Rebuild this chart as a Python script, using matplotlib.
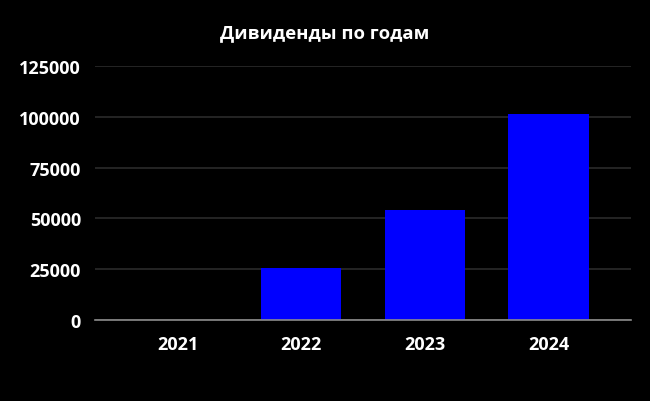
import matplotlib.pyplot as plt
from matplotlib.lines import Line2D

years = ['2021', '2022', '2023', '2024']
dividends = [0, 25500, 54300, 101500]
yticks = [0, 25000, 50000, 75000, 100000, 125000]

plt.rcParams['font.family'] = ['Open Sans', 'DejaVu Sans']
plt.rcParams['font.weight'] = 'bold'

fig = plt.figure(figsize=(6.5, 4.02), dpi=100, facecolor='black')
ax = fig.add_axes([0.146, 0.2015, 0.825, 0.6315], facecolor='black')

x = range(len(years))
ax.bar(x, dividends, width=0.65, color='#0000ff', zorder=3)

ax.set_xlim(-0.67, 3.67)
ax.set_ylim(0, 125000)
ax.set_yticks(yticks)
ax.set_yticklabels([str(v) for v in yticks])
ax.set_xticks(list(x))
ax.set_xticklabels(years)
ax.tick_params(colors='white', labelsize=13, length=0, pad=10)
ax.tick_params(axis='x', pad=10.5)
for lbl in ax.get_xticklabels() + ax.get_yticklabels():
    lbl.set_fontweight('bold')

ax.grid(axis='y', color='#2b2b2b', linewidth=1.2, zorder=0)
for side in ['top', 'right', 'left']:
    ax.spines[side].set_visible(False)
ax.spines['bottom'].set_color('#8c8c8c')
ax.spines['bottom'].set_linewidth(1.2)
ax.spines['bottom'].set_zorder(4)

fig.text(0.5, 0.918, 'Дивиденды по годам', color='white', fontsize=13.3,
         fontweight='bold', ha='center', va='center')

# thin light border at the top edge
fig.add_artist(Line2D([0, 1], [0.999, 0.999], color='#9a9a9a', linewidth=1.2))

fig.savefig('out.png', dpi=100, facecolor='black')
